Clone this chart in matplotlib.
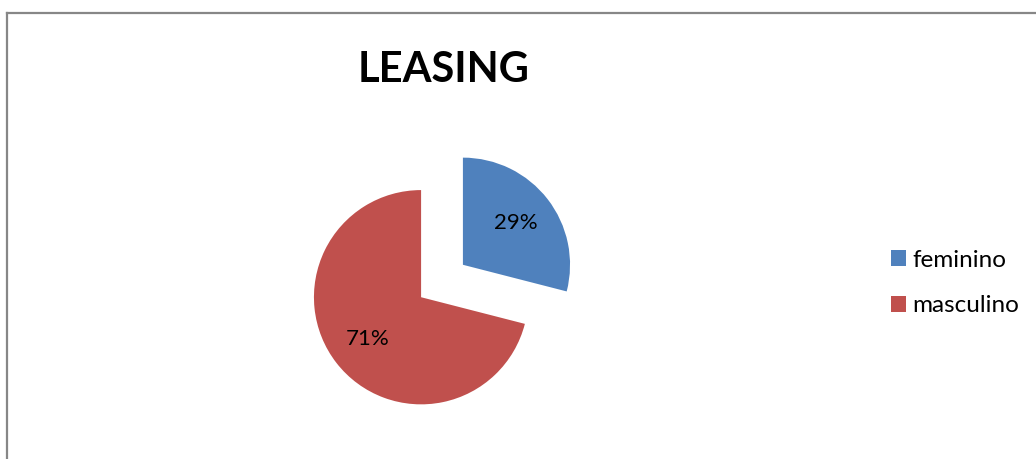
import matplotlib
matplotlib.use('Agg')
import matplotlib.pyplot as plt
from matplotlib.lines import Line2D

# Leasing clients split by gender
categories = ['feminino', 'masculino']
shares = [29, 71]
slice_colors = ['#4F81BD', '#C0504D']
chart_title = 'LEASING'

plt.rcParams['font.family'] = ['Lato', 'DejaVu Sans']

W, H = 1036, 459
fig = plt.figure(figsize=(W / 100, H / 100), dpi=100)
fig.patch.set_facecolor('white')

# chart area frame (top and left edges show)
frame = dict(color='#878787', lw=1.6, transform=fig.transFigure)
fig.add_artist(Line2D([7 / W, 1], [1 - 13 / H, 1 - 13 / H], **frame))
fig.add_artist(Line2D([7 / W, 7 / W], [0, 1 - 13 / H], **frame))

# pie axes: 300x300 px box centred on the pie
cx, cy, box = 442, 281, 300
ax = fig.add_axes([(cx - box / 2) / W, (H - cy - box / 2) / H, box / W, box / H])
wedges, _, pct_texts = ax.pie(
    shares, colors=slice_colors, startangle=90, counterclock=False,
    explode=[0.247, 0.247], autopct='%.0f%%', pctdistance=0.63,
    wedgeprops=dict(linewidth=0),
    textprops=dict(fontsize=16, color='black'))
ax.set_xlim(-1.4, 1.4)
ax.set_ylim(-1.4, 1.4)
ax.set_aspect('equal')
ax.axis('off')

fig.text(444 / W, 1 - 82 / H, chart_title, ha='center', va='baseline',
         fontsize=30, fontweight='bold')

fig.legend(wedges, categories, loc='center left',
           bbox_to_anchor=(891 / W, 1 - 283 / H), frameon=False,
           fontsize=17.5, handlelength=0.62, handleheight=0.62,
           handletextpad=0.25, labelspacing=1.02, borderpad=0,
           borderaxespad=0)

fig.savefig('out.png', dpi=100)
